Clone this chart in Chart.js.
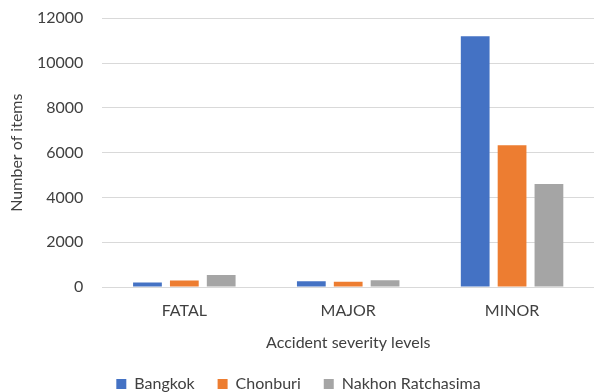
<!DOCTYPE html>
<html>
<head>
<meta charset="utf-8">
<script src="https://cdn.jsdelivr.net/npm/chart.js@4"></script>
<style>
  html, body { margin: 0; padding: 0; background: #ffffff; }
  #wrap { width: 594px; height: 392px; }
</style>
</head>
<body>
<div id="wrap"><canvas id="c"></canvas></div>
<script>
const categories = ["FATAL", "MAJOR", "MINOR"];
const seriesNames = ["Bangkok", "Chonburi", "Nakhon Ratchasima"];
const bangkok = [200, 255, 11200];
const chonburi = [285, 240, 6330];
const nakhonRatchasima = [540, 300, 4600];
const yTicks = [0, 2000, 4000, 6000, 8000, 10000, 12000];
const colors = ["#4472C4", "#ED7D31", "#A5A5A5"];

const textColor = "#404040";
const fontFamily = "Lato, 'Open Sans', sans-serif";

new Chart(document.getElementById("c"), {
  type: "bar",
  data: {
    labels: categories,
    datasets: [bangkok, chonburi, nakhonRatchasima].map((d, i) => ({
      label: seriesNames[i],
      data: d,
      backgroundColor: colors[i],
      borderWidth: 0,
      categoryPercentage: 0.675,
      barPercentage: 0.78
    }))
  },
  options: {
    responsive: true,
    maintainAspectRatio: false,
    animation: false,
    layout: { padding: { left: 3, right: 0, top: 0, bottom: -10 } },
    plugins: {
      tooltip: { enabled: false },
      legend: {
        position: "bottom",
        labels: {
          boxWidth: 10,
          boxHeight: 10,
          padding: 23,
          color: textColor,
          font: { family: fontFamily, size: 16 }
        }
      }
    },
    scales: {
      x: {
        grid: { display: false, drawTicks: false },
        border: { display: false },
        ticks: { color: textColor, font: { family: fontFamily, size: 16 }, padding: 14.3 },
        title: {
          display: true,
          text: "Accident severity levels",
          color: textColor,
          font: { family: fontFamily, size: 16 },
          padding: { top: -2, bottom: 1 }
        }
      },
      y: {
        min: 0,
        max: 12000,
        afterBuildTicks: (axis) => { axis.ticks = yTicks.map(v => ({ value: v })); },
        afterFit: (scale) => { scale.paddingTop = 18.3; },
        grid: { color: "#d9d9d9", lineWidth: 1, drawTicks: false },
        border: { display: false },
        ticks: {
          color: textColor,
          font: { family: fontFamily, size: 16 },
          padding: 19,
          callback: (v) => String(v)
        },
        title: {
          display: true,
          text: "Number of items",
          color: textColor,
          font: { family: fontFamily, size: 16 },
          padding: { top: 4, bottom: -8.2 }
        }
      }
    }
  }
});
</script>
</body>
</html>
